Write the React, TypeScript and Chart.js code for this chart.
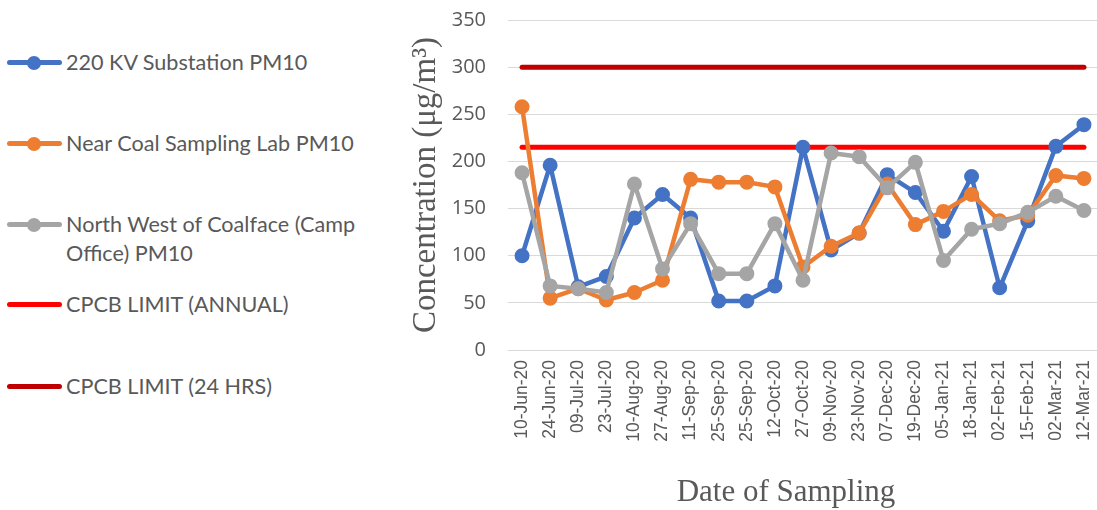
import React, { useEffect, useRef } from "react";
import { Chart, registerables } from "chart.js";

Chart.register(...registerables);

const categories = [
  "10-Jun-20", "24-Jun-20", "09-Jul-20", "23-Jul-20", "10-Aug-20", "27-Aug-20",
  "11-Sep-20", "25-Sep-20", "25-Sep-20", "12-Oct-20", "27-Oct-20", "09-Nov-20",
  "23-Nov-20", "07-Dec-20", "19-Dec-20", "05-Jan-21", "18-Jan-21", "02-Feb-21",
  "15-Feb-21", "02-Mar-21", "12-Mar-21",
];

const substation220kv = [100, 196, 67, 78, 140, 165, 140, 52, 52, 68, 215, 106, 124, 186, 167, 126, 184, 66, 137, 216, 239];
const nearCoalLab = [258, 55, 65, 53, 61, 74, 181, 178, 178, 173, 88, 110, 124, 176, 133, 147, 165, 137, 143, 185, 182];
const northWestCamp = [188, 68, 65, 61, 176, 86, 134, 81, 81, 134, 74, 209, 205, 172, 199, 95, 128, 134, 146, 163, 148];
const cpcbAnnual = [215, 215, 215, 215, 215, 215, 215, 215, 215, 215, 215, 215, 215, 215, 215, 215, 215, 215, 215, 215, 215];
const cpcb24h = [300, 300, 300, 300, 300, 300, 300, 300, 300, 300, 300, 300, 300, 300, 300, 300, 300, 300, 300, 300, 300];

const yTicks = [0, 50, 100, 150, 200, 250, 300, 350];

const xTitle = "Date of Sampling";
const yTitle = "Concentration (μg/m³)";

const seriesNames = [
  "220 KV Substation PM10",
  "Near Coal Sampling Lab PM10",
  "North West of Coalface (Camp Office) PM10",
  "CPCB LIMIT (ANNUAL)",
  "CPCB LIMIT (24 HRS)",
];
const seriesColors = ["#4472C4", "#ED7D31", "#A5A5A5", "#FF0000", "#C00000"];
const seriesData = [substation220kv, nearCoalLab, northWestCamp, cpcbAnnual, cpcb24h];
const seriesMarkers = [true, true, true, false, false];

const legendTops = [50, 131, 212, 292, 374];

export default function App() {
  const canvasRef = useRef<HTMLCanvasElement | null>(null);

  useEffect(() => {
    document.body.style.margin = "0";
    const canvas = canvasRef.current;
    if (!canvas) return;
    const datasets = seriesNames.map((name, i) => ({
      label: name,
      data: seriesData[i],
      borderColor: seriesColors[i],
      backgroundColor: seriesColors[i],
      borderWidth: seriesMarkers[i] ? 4.5 : 5,
      borderCapStyle: "round" as const,
      borderJoinStyle: "round" as const,
      pointRadius: seriesMarkers[i] ? 6 : 0,
      pointHoverRadius: seriesMarkers[i] ? 6 : 0,
      pointBorderWidth: 3,
      pointBackgroundColor: seriesColors[i],
      pointBorderColor: seriesColors[i],
      tension: 0,
      clip: false as any,
      order: [3, 2, 1, 4, 5][i],
    }));
    const chart = new Chart(canvas, {
      type: "line",
      data: { labels: categories, datasets },
      options: {
        animation: false,
        responsive: false,
        maintainAspectRatio: false,
        layout: { padding: { top: 20, right: 0, left: 0, bottom: 0 } },
        plugins: {
          legend: { display: false },
          tooltip: { enabled: false },
        },
        scales: {
          x: {
            offset: true,
            grid: { display: false, drawTicks: false },
            border: { display: false },
            ticks: {
              autoSkip: false,
              minRotation: 90,
              maxRotation: 90,
              padding: 10,
              color: "#595959",
              font: { family: "'Liberation Sans', Arial, sans-serif", size: 17.5 },
            },
            title: { display: false },
            afterFit: (scale: any) => {
              scale.height = 160;
              scale.paddingLeft = 0;
              scale.paddingRight = 0;
              scale.paddingTop = 0;
              scale.paddingBottom = 0;
            },
          },
          y: {
            min: 0,
            max: 350,
            afterBuildTicks: (scale: any) => {
              scale.ticks = yTicks.map((v) => ({ value: v }));
            },
            grid: { color: "#D9D9D9", lineWidth: 1, drawTicks: false },
            border: { display: false },
            ticks: {
              padding: 22,
              color: "#595959",
              font: { family: "'Open Sans', sans-serif", size: 20 },
            },
            title: {
              display: true,
              text: yTitle,
              color: "#595959",
              padding: { top: 7, bottom: 0 },
              font: { family: "'Liberation Serif', 'Times New Roman', serif", size: 33, weight: "normal" },
            },
            afterFit: (scale: any) => {
              scale.width = 108;
              scale.paddingTop = 0;
              scale.paddingBottom = 0;
              scale.paddingLeft = 0;
              scale.paddingRight = 0;
            },
          },
        },
      },
    });
    return () => chart.destroy();
  }, []);

  return (
    <div style={{ position: "relative", width: 1097, height: 510, background: "#fff", overflow: "hidden" }}>
      <canvas
        ref={canvasRef}
        width={707}
        height={510}
        style={{ position: "absolute", left: 400, top: 0, width: 707, height: 510 }}
      />
      <div
        style={{
          position: "absolute",
          left: 586,
          top: 472,
          width: 400,
          textAlign: "center",
          fontFamily: "'Liberation Serif', 'Times New Roman', serif",
          fontSize: 31,
          lineHeight: "38px",
          color: "#595959",
        }}
      >
        {xTitle}
      </div>
      {seriesNames.map((name, i) => (
        <div
          key={i}
          style={{
            position: "absolute",
            left: 0,
            top: legendTops[i],
            width: 390,
            display: "flex",
            alignItems: "flex-start",
          }}
        >
          <div style={{ position: "relative", width: 66, height: 24, flex: "0 0 66px" }}>
            <div
              style={{
                position: "absolute",
                left: 7,
                top: 10,
                width: 55,
                height: 5,
                borderRadius: 3,
                background: seriesColors[i],
              }}
            />
            {seriesMarkers[i] && (
              <div
                style={{
                  position: "absolute",
                  left: 27,
                  top: 5.5,
                  width: 14,
                  height: 14,
                  borderRadius: 7,
                  background: seriesColors[i],
                }}
              />
            )}
          </div>
          <div
            style={{
              fontFamily: "Lato, 'Open Sans', sans-serif",
              fontSize: 21.6,
              lineHeight: "29px",
              color: "#595959",
              width: 310,
              marginTop: -2,
            }}
          >
            {name}
          </div>
        </div>
      ))}
    </div>
  );
}
